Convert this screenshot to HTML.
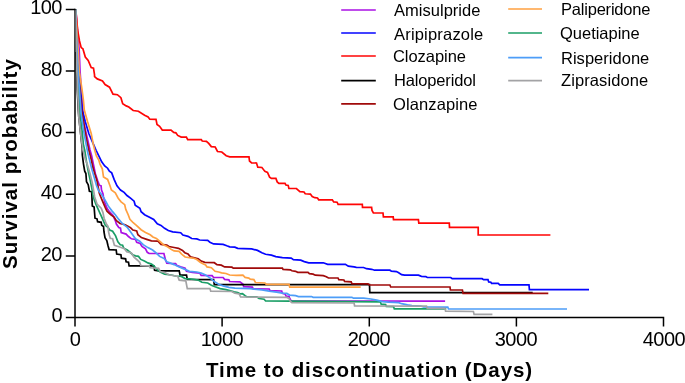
<!DOCTYPE html>
<html><head><meta charset="utf-8">
<style>
html,body{margin:0;padding:0;background:#fff;}
body{width:685px;height:383px;position:relative;overflow:hidden;font-family:"Liberation Sans",sans-serif;color:#000;}
svg{position:absolute;left:0;top:0;}
.t{position:absolute;white-space:nowrap;line-height:1;will-change:transform;}
.yt{font-size:20px;text-align:right;width:60px;left:1.8px;letter-spacing:-0.5px;}
.xt{font-size:20px;letter-spacing:-0.5px;text-align:center;width:80px;}
.lg{font-size:16.5px;}
.ax{font-weight:bold;font-size:20.5px;letter-spacing:0.9px;}
</style></head><body>
<svg width="685" height="383" viewBox="0 0 685 383">
<g id="curves" fill="none" stroke-width="1.7" stroke-linejoin="miter">
<path d="M75.7 9.2 L77.5 30 L79.2 50 L80 70 L80.3 74.7 L81.3 90 L82.8 110 L84.1 124.1 L87.6 139.4 L90 150 L91.7 155.9 L92.9 161.8 L95.3 173.5 L97.6 180.5 L99.4 185.3 L101.1 185.8 L101.5 190 L102.9 193.5 L103.5 197 L105 203 L107 208.2 L109.4 211.7 L112.9 215.3 L115.3 220.6 L116.4 224.1 L118.8 227.6 L120.5 228.2 L121.2 232.6 L126.1 234.1 L128.5 236.5 L131.4 238.8 L135.5 239.4 L136.7 242.3 L140.2 243.5 L142 246.5 L145.5 248.8 L147.3 252.3 L149.1 253.5 L163.9 253.5 L165.4 259.6 L166.8 263.3 L175.6 263.7 L177 265.5 L180.7 266.9 L185.1 268.1 L186.5 271.3 L192.4 272.5 L199.7 273.1 L201.2 275.4 L212.1 275.7 L213.6 277.5 L223.1 277.5 L224.6 279.4 L228.9 279.8 L229.7 281.5 L239.9 281.8 L242.9 284 L243.7 286.7 L252.4 287.1 L253.2 288.8 L269.2 289 L270 290.7 L281.7 291 L282.4 293.4 L285.3 294.1 L286 296 L289 296.3 L289.7 298.5 L291.2 301 L445.1 301.2" stroke="#aa10e4"/>
<path d="M75.7 9.2 L76.4 30 L77.4 50 L78.6 70 L80.5 90 L81.2 95.9 L82.3 110 L85.3 121.8 L88.8 133.5 L92.3 141.7 L96.2 150.5 L98.8 155.9 L101.7 161.8 L104.7 165.9 L107.6 168.2 L109.4 171.2 L111.7 172.9 L114.1 179.4 L117 185.8 L119.4 188.8 L120.5 190 L124.1 192.4 L127 195.5 L130.5 198.2 L134.1 201.2 L135.2 205.3 L139.9 208.2 L141.1 211.7 L144.6 214.7 L150 217.4 L153.7 219.5 L157.3 223.9 L161 225.4 L164.6 228.3 L168.3 230.5 L172.7 231.9 L180.7 232.7 L182.9 235.1 L188 236.3 L191.7 238.5 L196.8 238.9 L199.7 240 L207.7 240.4 L209.9 242.2 L213.6 243.9 L223.1 244.4 L226.8 245.8 L229.7 246.8 L234.8 247.1 L237.7 248.3 L243.6 248.6 L251.7 248.9 L257.5 250.4 L261.9 252.8 L265.6 254.3 L271.4 255.2 L275.8 256.6 L282.4 257.7 L291.2 258.1 L293.4 259.6 L300.7 260.1 L304.3 261.6 L308.7 262.8 L323.3 262.8 L327.7 264.3 L345.4 264.3 L348.3 266.1 L354.1 266.8 L356.3 267.3 L363.6 267.5 L366.5 268.7 L371.7 269.3 L374.6 270.2 L389.9 270.2 L391.4 271.2 L396.5 271.6 L398.7 272.7 L401.6 274.6 L404.6 275.1 L418.5 275.1 L421.4 276.3 L425.8 276.6 L427.3 277.5 L450.7 277.5 L452.2 278.7 L482.1 278.7 L483.6 279.7 L488 279.7 L488.7 281.9 L490.9 282.2 L491.6 283.4 L498.2 283.4 L499.7 284.9 L529 284.9 L529.4 289.7 L589 289.7" stroke="#0505ff"/>
<path d="M75.7 9.2 L76.7 19 L77.6 30 L79.5 41 L81.2 47.6 L82.9 48.8 L85.3 57 L88.2 60.5 L91.2 67.6 L93.5 68.2 L94.5 74.7 L94.6 76.6 L97.3 78.9 L102.5 81 L105.1 84.5 L109.5 87.2 L113 94.2 L117.4 94.7 L120.9 97.7 L122.7 103.8 L126.2 105.9 L128.8 107 L133.2 110.5 L138.4 111.2 L144.6 115.2 L148.1 116.9 L149.8 119.2 L156 119.4 L157 124.5 L159.6 126.3 L162.3 130.1 L171 130.1 L173.7 132.4 L175.9 132.8 L177.7 135.4 L181.2 137.1 L186.4 137.1 L187.7 139.6 L201.3 139.6 L202.2 141 L206.4 141.3 L208.7 143.4 L211.3 146.6 L215.2 147 L217.5 151.5 L221.8 152 L226.2 155.7 L229.7 156.9 L249 156.9 L249.5 161 L251.6 162.8 L256.5 163 L257.8 167.2 L261.9 167.5 L264.9 171.4 L267.5 172.4 L269.6 177.2 L271.4 178.4 L275.9 178.4 L277.2 181.9 L278.9 183.3 L285 183.3 L285.9 185 L288.2 185.4 L288.9 188.5 L296.4 188.5 L299.9 191.7 L304 192 L305.2 193.8 L310.4 194.1 L312.2 196.6 L314.8 197.7 L317.5 198 L318.7 199.8 L332.3 199.8 L333.7 201.9 L337.1 202.2 L338.1 204.3 L362.3 204.3 L362.5 207.4 L371.6 207.4 L372 210.4 L373.4 213 L383 213 L383.4 216.9 L393.2 216.9 L393.5 219.7 L418.4 219.7 L418.8 223.2 L449.3 223.2 L449.5 227.3 L478.2 227.3 L478.2 235 L550.4 235" stroke="#ff0505"/>
<path d="M75.7 9.2 L75.9 30 L76.2 50 L76.6 70 L77.3 90 L78.3 110 L78.8 117 L80.6 133.5 L82.3 148.8 L82.3 154.7 L83.5 164.1 L84.7 171.2 L85.9 173.5 L86.5 181.7 L88.2 184.7 L89.4 191.2 L91.7 191.8 L92.3 205.9 L94.1 207 L95 218.2 L97 218.8 L97.6 221.7 L101.2 222.3 L101.7 225.3 L103.5 226.4 L104 232 L105 237.6 L106.8 240.6 L107.9 245.3 L109.1 249.6 L116.2 250 L116.7 254.1 L120.9 254.7 L121.4 258.2 L125.6 258.8 L126.1 261.7 L128.5 262.3 L129.1 265.9 L153.8 265.9 L154.6 270.3 L158.8 270.8 L179.2 270.8 L180 275 L186.5 275.2 L187.3 279.5 L213.6 279.6 L214.3 284.6 L369.5 284.6 L369.8 292.7 L532.7 292.7" stroke="#000"/>
<path d="M75.7 9.2 L76.3 30 L77.2 50 L78.3 70 L79.8 90 L81.5 110 L84 125 L86.5 139.4 L88.8 150 L91.2 159.4 L92.9 167.6 L94.7 173.5 L97 181 L99.4 193.5 L102.3 200.6 L105.3 207.6 L107 211.2 L110.6 214.7 L114.1 217 L116.4 220.6 L120 223.5 L125.2 224.7 L130.5 227.6 L132.9 230 L136.7 231 L137.9 234.7 L141.4 237.6 L146.7 239.4 L151.4 240.9 L158 241.2 L161 244.4 L166.8 245.1 L169 246.5 L174.1 247.5 L178.5 248.3 L182.5 250.4 L184.8 252.7 L188 254 L190.5 256.9 L198.2 258.7 L201.2 261.1 L204.8 262.4 L214.3 262.7 L217 264.7 L221.3 265.2 L224.6 266.9 L231.9 267.2 L233.3 268.2 L282.4 268.2 L283.1 269.4 L290.4 269.8 L291.9 270.8 L295.6 271.3 L297.7 272.3 L308 272.3 L309.4 273.7 L313.1 274.2 L315.3 275.2 L323.3 275.6 L326.3 276.7 L328.5 278 L338 278 L338.8 279.7 L343.9 280 L344.6 281.4 L351.2 281.9 L351.9 283.6 L368 283.9 L369.5 285 L389.9 285 L390.7 287 L450 287 L450.4 290 L462.4 290 L463.1 293.4 L548.3 293.4" stroke="#a00a0a"/>
<path d="M75.7 9.2 L76.8 30 L78.2 50 L79.2 70 L79.4 72.4 L81.75 87.6 L83.3 99.4 L84.3 110 L87.6 121.8 L91.2 133.5 L93.5 145.3 L94.7 150 L96.4 155.9 L98.8 160 L100 164.1 L102.3 168.8 L103.5 177 L107.6 179.4 L110 185.8 L111.4 190 L115.3 192.9 L118.2 198.2 L121.1 201.8 L124.7 204.7 L125.8 209.4 L128.2 214.7 L129.9 219.4 L132.9 222.3 L136.4 225.3 L141.1 229.7 L145.5 232.4 L150.2 234.8 L152.9 237 L156.4 238.4 L160.5 242 L163.9 245.1 L167.5 246.8 L171.5 249.6 L174.1 250.9 L179.2 251.4 L181.4 253.8 L185.1 257 L190.9 257.8 L193.9 258.2 L196.8 259.6 L200.2 262.2 L203.4 264.1 L205.6 264.9 L207 266.9 L211.4 267.7 L215.1 271.3 L218.7 272 L221.6 272.8 L226 273.5 L229.7 275 L236.3 275.4 L242.9 275.2 L245.1 277.4 L248.8 278.1 L250.2 279.2 L253.9 279.6 L255.4 282.5 L264.9 283 L266.3 284.4 L289 284.4 L289.7 287.2 L360.7 287.2" stroke="#ffa040"/>
<path d="M75.7 9.2 L76.1 30 L76.6 50 L77.4 70 L78.5 90 L80 113.5 L81.75 127.6 L83.5 145.3 L84.7 150 L86.5 161.8 L88.2 171.2 L90 179.4 L91.7 187.6 L92.9 194.7 L94.1 199.4 L96.4 205.3 L98.8 210.6 L101.2 215.9 L103.5 221.1 L105.3 225.3 L108.2 227.6 L109.7 230 L112.6 231.2 L115.6 235.9 L117.9 241.8 L120.3 244.7 L122.6 245.3 L123.8 248.2 L127.3 250 L130.3 252.3 L132.6 254.7 L135.5 255.9 L138.5 256.4 L140.8 259.4 L144.4 261.1 L147.9 262.9 L151.4 264.1 L153.7 265.6 L156.6 269.1 L160.2 272 L164.6 274.2 L171.2 275 L175.6 276 L181.4 276.4 L185.1 278.6 L189.5 278.9 L193.9 279.4 L198.2 280.1 L201.9 282.3 L207.7 283 L211.4 285.2 L215.1 286.7 L220.2 288.6 L226 289.6 L229.7 290.6 L234.1 291.8 L237.7 292.5 L240.5 293.9 L242.5 293.7 L245.1 295.6 L246.6 296.6 L256.8 296.9 L259 298.5 L264.1 299.2 L265.6 301 L290.4 301.2 L380.4 301.8 L381.2 304.2 L385.6 304.6 L386.3 306.4 L393.6 306.6 L394.3 308.9 L446.3 308.9" stroke="#1a9e66"/>
<path d="M75.7 9.2 L76.3 30 L77 50 L78 70 L79.5 90 L81.2 114 L84.1 133.5 L87.6 152 L89.4 159.4 L91.7 168.8 L94.1 177 L96.4 185.3 L98.5 190.5 L101.7 194.7 L104.7 199.4 L108.2 205.9 L111.7 210.6 L115.3 214.7 L118.8 219.4 L122.3 223.5 L127 227 L129.6 230.5 L132.6 234.7 L135.5 238.8 L139.7 241.2 L143.2 244.7 L147.9 247.6 L152.6 250 L156.1 252.9 L159.6 256.4 L164.1 258.5 L166.8 261.8 L170.5 263.1 L174.1 264.6 L179.2 266.9 L184.4 269.1 L189.5 271.3 L196.8 272 L201.2 273.1 L205.6 275 L209.9 277.9 L214.3 281.5 L218.7 284.2 L223.1 285.9 L228.9 287.4 L234.8 288.1 L250.2 288.7 L261.9 289.9 L269.2 291.2 L276.5 292.2 L282.4 293.1 L286.8 293.4 L289.7 295.1 L295.6 295.6 L298.5 296.6 L311.6 296.6 L313.1 297.3 L351.9 297.3 L353.4 298.2 L363.6 298.2 L370.9 299 L376.8 300.2 L382.6 301.6 L388.5 302.2 L398.7 302.7 L401.6 303.7 L407.5 304.9 L411.9 305.6 L420.6 306 L423.6 307 L447.8 307.2 L448.5 309 L567 309" stroke="#4d9df8"/>
<path d="M75.7 9.2 L76 30 L76.4 50 L76.8 70 L77.6 90 L78.8 117 L80.6 133.5 L82.9 150 L85.3 159.4 L87.6 165.3 L90 173.5 L92.3 182.9 L93.5 190 L94.7 197 L97 204.1 L101.2 208.2 L102.9 212.3 L104.1 218.2 L106.4 224.1 L108 226.4 L108.6 232 L109.3 235 L110.3 238.2 L112.6 238.8 L114.4 245.3 L119.7 247 L124.4 248.8 L126.7 251.7 L131.4 252.9 L133.8 257 L137.3 260 L139.7 262.3 L140.8 265.5 L149.1 265.8 L150.2 267.8 L158.6 268.3 L160.2 271.5 L164.6 272.5 L169 274.8 L177.8 276.4 L179.2 280.1 L185.8 280.8 L187.3 288.6 L209.9 288.6 L210.7 291.1 L231.9 291.5 L234.8 293.2 L239.2 294 L240.6 297 L286.8 297.4 L289 298.5 L290.4 301.4 L291.9 302.7 L354.1 303 L354.6 306 L426.5 306.2 L427.3 308.3 L444.9 308.4 L445.6 311.2 L473.4 311.5 L474.1 314.4 L492.4 314.4" stroke="#a3a3a5"/>
</g>
<g stroke="#000" stroke-width="1.5" fill="none">
<path d="M75 8.65V326.5"/>
<path d="M65.8 317.5H663.5V326.5"/>
<path d="M65.8 9.4H75M65.8 71H75M65.8 132.6H75M65.8 194.3H75M65.8 255.9H75"/>
<path d="M222.1 317.5V326.5M369.3 317.5V326.5M516.4 317.5V326.5"/>
</g>
<path d="M75.2 10.2L75.5 30L76 52" stroke="#a3a3a5" stroke-width="1.6" fill="none" opacity="0.5"/>
<g id="legend" stroke-width="1.7">
<path d="M341.2 10H375.8" stroke="#aa10e4"/>
<path d="M341.2 33H375.8" stroke="#0505ff"/>
<path d="M341.2 56H375.8" stroke="#ff0505"/>
<path d="M341.2 80.65H375.8" stroke="#000"/>
<path d="M341.2 103.8H375.8" stroke="#a00a0a"/>
<path d="M508.2 9H542" stroke="#ffa040"/>
<path d="M508.2 33H542" stroke="#1a9e66"/>
<path d="M508.2 57.6H542" stroke="#4d9df8"/>
<path d="M508.2 80.7H542" stroke="#a3a3a5"/>
</g>
</svg>
<div class="t yt" style="top:-3px">100</div>
<div class="t yt" style="top:59px">80</div>
<div class="t yt" style="top:120px">60</div>
<div class="t yt" style="top:182px">40</div>
<div class="t yt" style="top:244px">20</div>
<div class="t yt" style="top:305px">0</div>
<div class="t xt" style="left:35px;top:329px">0</div>
<div class="t xt" style="left:182px;top:329px">1000</div>
<div class="t xt" style="left:329px;top:329px">2000</div>
<div class="t xt" style="left:476px;top:329px">3000</div>
<div class="t xt" style="left:623.8px;top:329px">4000</div>
<div class="t ax" style="left:206px;top:360px;letter-spacing:0.93px">Time to discontinuation (Days)</div>
<div class="t ax" style="left:0;top:0;transform-origin:0 0;transform:translate(0px,269px) rotate(-90deg);letter-spacing:1.03px">Survival probability</div>
<div class="t lg" style="left:393.7px;top:2px;letter-spacing:0.02px">Amisulpride</div>
<div class="t lg" style="left:393.7px;top:26px;letter-spacing:0.19px">Aripiprazole</div>
<div class="t lg" style="left:393.4px;top:48px;letter-spacing:-0.05px">Clozapine</div>
<div class="t lg" style="left:394.1px;top:72px;letter-spacing:-0.16px">Haloperidol</div>
<div class="t lg" style="left:393.4px;top:96px;letter-spacing:0.11px">Olanzapine</div>
<div class="t lg" style="left:560.6px;top:1px;letter-spacing:-0.21px">Paliperidone</div>
<div class="t lg" style="left:559.8px;top:25px;letter-spacing:-0.02px">Quetiapine</div>
<div class="t lg" style="left:560.6px;top:50px;letter-spacing:0.02px">Risperidone</div>
<div class="t lg" style="left:560.8px;top:72px;letter-spacing:0.1px">Ziprasidone</div>
</body></html>
